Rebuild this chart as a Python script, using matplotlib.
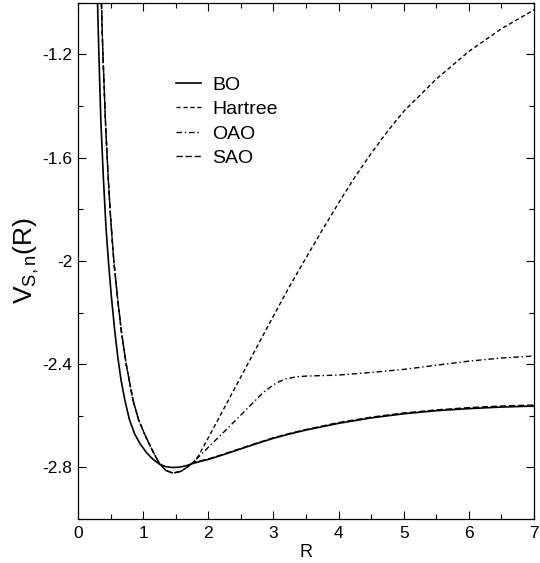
import matplotlib
matplotlib.use('Agg')
import matplotlib.pyplot as plt
from matplotlib.ticker import MultipleLocator, FixedLocator, FixedFormatter

plt.rcParams['font.family'] = ['Liberation Sans', 'DejaVu Sans']
plt.rcParams['mathtext.default'] = 'regular'

# values
r_bo = [0.30, 0.32, 0.35, 0.39, 0.43, 0.47, 0.51, 0.56, 0.61, 0.66, 0.72, 0.79, 0.87, 0.95,
        1.05, 1.15, 1.25, 1.35, 1.45, 1.55, 1.65, 1.77, 1.9, 2.0, 2.25, 2.5, 2.75, 3.0,
        3.25, 3.5, 4.0, 4.5, 5.0, 5.5, 6.0, 6.5, 7.0]
v_bo = [-1.00, -1.19, -1.45, -1.68, -1.87, -2.01, -2.13, -2.26, -2.37, -2.46, -2.54, -2.615,
        -2.67, -2.707, -2.742, -2.768, -2.787, -2.797, -2.800, -2.799, -2.794, -2.784, -2.775,
        -2.769, -2.749, -2.728, -2.707, -2.687, -2.670, -2.655, -2.629, -2.608, -2.592,
        -2.580, -2.572, -2.566, -2.562]

# the three approximations agree at short distance
r_short = [0.36, 0.38, 0.42, 0.46, 0.50, 0.55, 0.61, 0.67, 0.74, 0.80, 0.845, 0.93, 1.03,
           1.15, 1.25, 1.35, 1.46, 1.58, 1.67, 1.77]
v_short = [-1.00, -1.18, -1.45, -1.66, -1.83, -2.00, -2.15, -2.28, -2.40, -2.48, -2.54, -2.615,
           -2.675, -2.738, -2.785, -2.812, -2.822, -2.815, -2.80, -2.78]

r_hartree = [1.85, 2.0, 2.25, 2.5, 2.75, 3.0, 3.25, 3.5, 3.75, 4.0, 4.25, 4.5, 4.75, 5.0,
             5.5, 6.0, 6.5, 7.0]
v_hartree = [-2.755, -2.685, -2.567, -2.449, -2.331, -2.213, -2.097, -1.988, -1.88, -1.775,
             -1.675, -1.583, -1.498, -1.42, -1.295, -1.188, -1.100, -1.027]

r_oao = [2.0, 2.25, 2.5, 2.7, 2.85, 3.0, 3.1, 3.2, 3.35, 3.5, 4.0, 4.5, 5.0, 5.5, 6.0,
         6.5, 7.0]
v_oao = [-2.722, -2.660, -2.597, -2.546, -2.508, -2.480, -2.466, -2.456, -2.449, -2.446,
         -2.442, -2.432, -2.42, -2.404, -2.388, -2.376, -2.368]

r_sao = [1.9, 2.0, 2.25, 2.5, 2.75, 3.0, 3.25, 3.5, 4.0, 4.5, 5.0, 5.5, 6.0, 6.5, 7.0]
v_sao = [-2.773, -2.767, -2.747, -2.726, -2.705, -2.685, -2.668, -2.653, -2.626, -2.605,
         -2.589, -2.577, -2.568, -2.562, -2.558]

y_ticks = [-2.8, -2.4, -2.0, -1.6, -1.2]
y_labels = ['-2.8', '-2.4', '-2', '-1.6', '-1.2']

fig = plt.figure(figsize=(5.4, 5.63), dpi=100)
ax = fig.add_axes([0.1444, 0.078, 0.8446, 0.9169])

ax.plot(r_bo, v_bo, color='black', lw=1.2, label='BO')
ax.plot(r_short + r_hartree, v_short + v_hartree, color='black', lw=1.0,
        ls=(0, (3, 2)), label='Hartree')
ax.plot(r_short + r_oao, v_short + v_oao, color='black', lw=1.0,
        ls=(0, (4, 2, 1, 2)), label='OAO')
ax.plot(r_short + r_sao, v_short + v_sao, color='black', lw=1.0,
        ls=(0, (4.5, 2)), label='SAO')

ax.set_xlim(0, 7)
ax.set_ylim(-3.0, -1.0)
ax.xaxis.set_major_locator(MultipleLocator(1))
ax.xaxis.set_minor_locator(MultipleLocator(0.5))
ax.yaxis.set_major_locator(FixedLocator(y_ticks))
ax.yaxis.set_major_formatter(FixedFormatter(y_labels))
ax.yaxis.set_minor_locator(MultipleLocator(0.2))
ax.tick_params(which='both', direction='in', top=True, right=True, labelsize=12.5, width=0.8)
ax.tick_params(which='major', length=6)
ax.tick_params(axis='x', which='major', pad=5)
ax.tick_params(axis='y', which='major', pad=4)
ax.tick_params(which='minor', length=3.5)
for s in ax.spines.values():
    s.set_linewidth(0.9)

ax.set_xlabel('R', fontsize=13, labelpad=2)
ax.set_ylabel('$V_{S,n}(R)$', fontsize=19)
ax.yaxis.set_label_coords(-0.08, 0.5)

ax.legend(loc='upper left', bbox_to_anchor=(0.216, 0.858), frameon=False, fontsize=14,
          handlelength=1.25, handletextpad=0.6, labelspacing=0.35, borderpad=0,
          borderaxespad=0)

fig.savefig('out.png', dpi=100)
